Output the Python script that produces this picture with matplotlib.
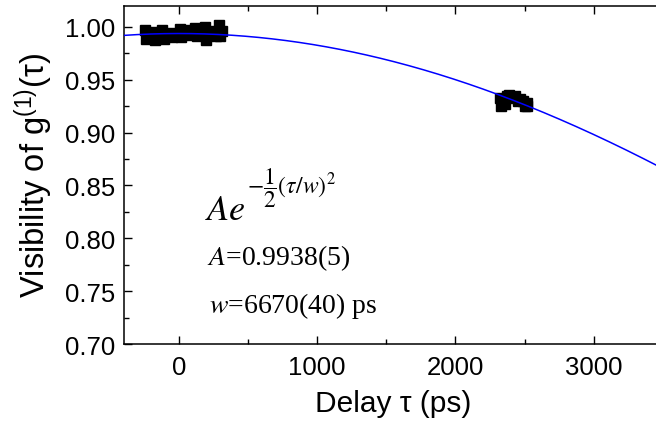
import numpy as np
import matplotlib
matplotlib.use('Agg')
from matplotlib import pyplot as plt
from matplotlib.ticker import MultipleLocator

# measured visibility, first delay setting (around 0 ps)
tau_short = [-245, -235, -225, -190, -175, -160, -125, -110, -95, -65, -50, -35,
             5, 15, 25, 55, 68, 80, 115, 128, 140, 185, 198, 210, 255, 265, 290, 300, 312]
vis_short = [0.9976, 0.9889, 0.9935, 0.9951, 0.9880, 0.9925, 0.9967, 0.9889, 0.9930,
             0.9945, 0.9904, 0.9920, 0.9983, 0.9904, 0.9940, 0.9967, 0.9920, 0.9940,
             0.9992, 0.9910, 0.9950, 1.0002, 0.9880, 0.9940, 0.9960, 0.9910, 1.0014,
             0.9910, 0.9960]

# second delay setting (around 2400 ps)
tau_long = [2325, 2330, 2340, 2355, 2370, 2390, 2410, 2430, 2450, 2470, 2490, 2500, 2515, 2520]
vis_long = [0.9330, 0.9250, 0.9290, 0.9270, 0.9350, 0.9360, 0.9330, 0.9350, 0.9300,
            0.9320, 0.9300, 0.9250, 0.9280, 0.9250]

# gaussian fit parameters
A_fit = 0.9938
w_fit = 6670

plt.rcParams['font.family'] = ['Liberation Sans', 'DejaVu Sans']
plt.rcParams['mathtext.fontset'] = 'custom'
plt.rcParams['mathtext.rm'] = 'Liberation Sans'
plt.rcParams['mathtext.it'] = 'Liberation Sans:italic'

fig = plt.figure(figsize=(6.56, 4.27), dpi=100)
ax = fig.add_axes([0.1885, 0.192, 0.822, 0.792])

t = np.linspace(-400, 3500, 400)
ax.plot(t, A_fit * np.exp(-0.5 * (t / w_fit) ** 2), color='#0000ff', lw=1.1, zorder=3)
ax.plot(tau_short, vis_short, 's', color='black', ms=7, zorder=2)
ax.plot(tau_long, vis_long, 's', color='black', ms=7, zorder=2)

ax.set_xlim(-400, 3500)
ax.set_ylim(0.70, 1.02)
ax.xaxis.set_major_locator(MultipleLocator(1000))
ax.xaxis.set_minor_locator(MultipleLocator(500))
ax.yaxis.set_major_locator(MultipleLocator(0.05))
ax.yaxis.set_minor_locator(MultipleLocator(0.025))
ax.yaxis.set_major_formatter(matplotlib.ticker.FormatStrFormatter('%.2f'))
ax.tick_params(which='both', direction='in', top=True, right=False, labelsize=18.5, width=1)
ax.tick_params(which='major', length=6, pad=6)
ax.tick_params(which='minor', length=3.5)
ax.tick_params(axis='x', which='major', pad=8)
for s in ax.spines.values():
    s.set_linewidth(1.1)

ax.set_xlabel('Delay τ (ps)', fontsize=21.5, labelpad=7)
ax.set_ylabel('Visibility of g$^{(1)}$(τ)', fontsize=23.5, labelpad=7)

# fit formula, exponent drawn on its own so it keeps a readable size
fig.text(0.312, 0.485, r'$Ae$', fontsize=26, math_fontfamily='stix', va='baseline')
fig.text(0.376, 0.558, r'$-\dfrac{1}{2}(\tau/w)^2$', fontsize=17,
         math_fontfamily='stix', va='center')
fig.text(0.315, 0.378, r'$A$=0.9938(5)', fontsize=20,
         family='Liberation Serif', math_fontfamily='stix', va='baseline')
fig.text(0.318, 0.268, r'$w$=6670(40) ps', fontsize=20,
         family='Liberation Serif', math_fontfamily='stix', va='baseline')

plt.savefig('out.png', dpi=100)
